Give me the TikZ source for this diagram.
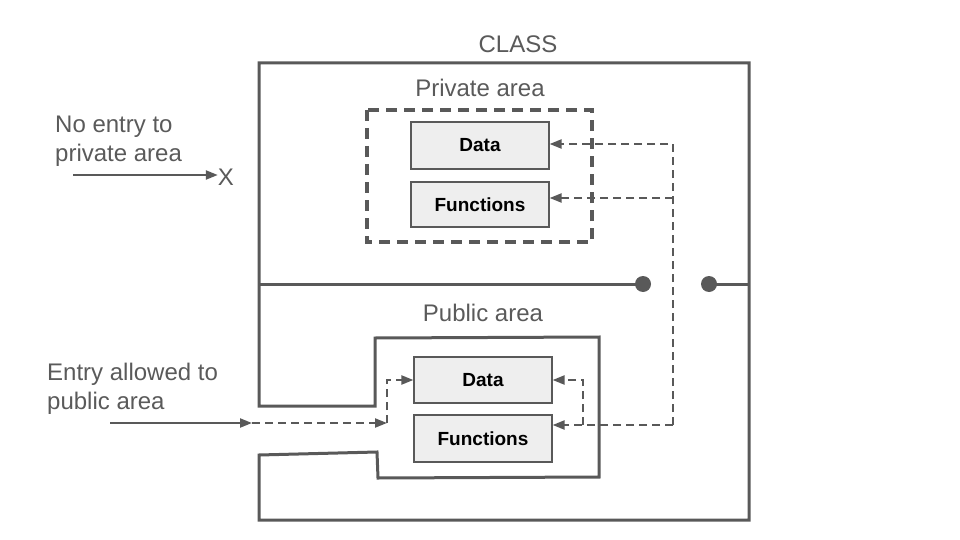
\documentclass[tikz,border=0pt]{standalone}
\usepackage{fontspec}
\setmainfont{Liberation Sans}
\usetikzlibrary{arrows.meta}
\definecolor{ln}{HTML}{595959}
\definecolor{tx}{HTML}{5A5A5A}
\definecolor{bx}{HTML}{EEEEEE}
\tikzset{
  lbl/.style={text=tx, font=\fontsize{24}{28.5}\selectfont, inner sep=0pt},
  lbltwo/.style={lbl, align=left, anchor=west},
  itembox/.style={draw=ln, fill=bx, line width=1.2pt, minimum width=138pt, inner sep=0pt, font=\bfseries\fontsize{19}{23}\selectfont},
  wall/.style={draw=ln, line width=3pt, line join=miter},
  privframe/.style={draw=ln, line width=3.5pt, dash pattern=on 11pt off 7pt},
  tip/.style={-{Triangle[length=12pt,width=9pt]}},
  dconn/.style={draw=ln, line width=2.2pt, dash pattern=on 8pt off 5pt},
  sconn/.style={draw=ln, line width=2.2pt},
}
\begin{document}
\begin{tikzpicture}[x=1pt,y=-1pt]
\useasboundingbox (0,0) rectangle (960,540);
% outer class shape
\draw[wall] (259,63) -- (749,63) -- (749,520) -- (259,520) -- (259,455) -- (377,452) -- (378,478) -- (599,477) -- (599,337) -- (375,338) -- (375,406) -- (259,406) -- cycle;
\draw[wall] (259,284) -- (643,284);
\draw[wall] (709,284) -- (749,284);
\fill[ln] (643,284) circle (8pt);
\fill[ln] (709,284) circle (8pt);
% labels
\node[lbl] (cls) at (518,44) {CLASS};
\node[lbl] (priv) at (480,88) {Private area};
\node[lbl] (pub) at (483,313) {Public area};
\node[lbltwo] (noentry) at (55,141) {No entry to\\private area};
\node[lbltwo] (entry) at (47,389) {Entry allowed to\\public area};
% private frame
\draw[privframe] (367,110) rectangle (592,242);
% boxes
\node[itembox, minimum height=47pt] (privData) at (480,145.5) {Data};
\node[itembox, minimum height=45pt] (privFun) at (480,204.5) {Functions};
\node[itembox, minimum height=46pt] (pubData) at (483,380) {Data};
\node[itembox, minimum height=47pt] (pubFun) at (483,438.5) {Functions};
% no-entry arrow
\coordinate (neStart) at (73,175);
\node[lbl] (xmark) at (226,177) {X};
\coordinate (neEnd) at (xmark.west |- neStart);
\draw[sconn, tip] (neStart) -- (neEnd);
% private access connectors
\coordinate (vTop) at (673,144);
\coordinate (vMid) at (673,198);
\coordinate (vBot) at (673,425);
\coordinate (pdIn) at (privData.east |- vTop);
\coordinate (pfIn) at (privFun.east |- vMid);
\coordinate (pubFIn) at (pubFun.east |- vBot);
\draw[dconn, tip] (vBot) -- (vTop) -- (pdIn);
\draw[dconn, tip] (vMid) -- (pfIn);
\draw[dconn, tip] (vBot) -- (pubFIn);
% inner connector right
\coordinate (rBot) at (583,425);
\coordinate (rTop) at (583,380);
\draw[dconn, tip] (rBot) -- (rTop) -- (pubData.east);
% entry arrow
\coordinate (enStart) at (110,423);
\coordinate (enMid) at (252,423);
\coordinate (enEnd) at (387,423);
\coordinate (enUp) at (387,380);
\draw[sconn, tip] (enStart) -- (enMid);
\draw[dconn, tip] (enMid) -- (enEnd);
\draw[dconn, tip] (enEnd) -- (enUp) -- (pubData.west);
\end{tikzpicture}
\end{document}
